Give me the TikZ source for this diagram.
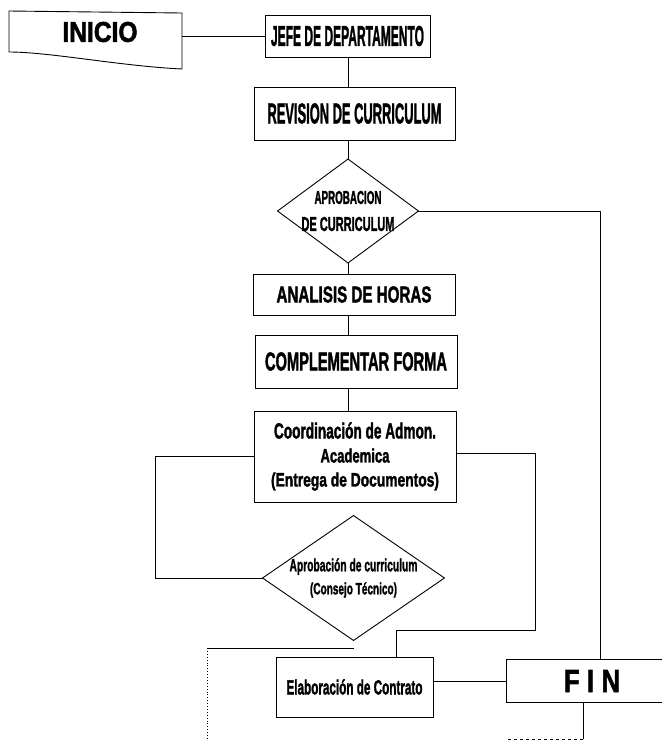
\documentclass[tikz,border=0pt]{standalone}
\usepackage{fontspec}
\setmainfont{Liberation Sans}[BoldFeatures={FakeBold=2}]
\usepackage{graphicx}

% ancho y alto fijos para cada linea de texto (letra condensada)
\newcommand{\ancho}[3]{\resizebox{#1pt}{#2pt}{#3}}

\begin{document}
\begin{tikzpicture}[x=1pt,y=-1pt,line width=0.9pt,
  caja/.style={draw,inner sep=0pt,align=center},
  rombo/.style={inner sep=0pt,align=center}]
\useasboundingbox (0,0) rectangle (662,740);
%inicio
\draw (9,11) -- (182,13) -- (182,69) .. controls (120,66) and (50,52) .. (9,52) -- cycle;
\node[font={\fontsize{29}{30}\selectfont\bfseries}] (inicio) at (100,32) {\ancho{75}{20}{INICIO}};
\coordinate (inicioR) at (182,36);
%cajas y rombos
\node[caja,minimum width=165pt,minimum height=42pt,font={\fontsize{28}{30}\selectfont\bfseries}] (jefe) at (347.5,36) {\ancho{153}{20}{JEFE DE DEPARTAMENTO}};
\node[caja,minimum width=201pt,minimum height=53pt,font={\fontsize{28}{30}\selectfont\bfseries}] (revision) at (354.5,113.5) {\ancho{174}{20}{REVISION DE CURRICULUM}};
\node[rombo,minimum width=140pt,minimum height=103pt,font={\fontsize{19}{27}\selectfont\bfseries}] (a1) at (348,211) {\ancho{67}{13}{APROBACION}\\\ancho{93}{14}{DE CURRICULUM}};
\draw (a1.north) -- (a1.east) -- (a1.south) -- (a1.west) -- cycle;
\node[caja,minimum width=202pt,minimum height=41pt,font={\fontsize{23}{25}\selectfont\bfseries}] (analisis) at (354,294.5) {\ancho{155}{16}{ANALISIS DE HORAS}};
\node[caja,minimum width=202pt,minimum height=53pt,font={\fontsize{25}{27}\selectfont\bfseries}] (complementar) at (356,361.5) {\ancho{182}{18}{COMPLEMENTAR FORMA}};
\node[caja,minimum width=202pt,minimum height=91pt,font={\fontsize{22}{24}\selectfont\bfseries}] (coord) at (355,456.5) {\ancho{162}{16}{Coordinación de Admon.}\\\ancho{69}{14}{Academica}\\\ancho{168}{14}{(Entrega de Documentos)}};
\node[rombo,minimum width=181pt,minimum height=124pt,font={\fontsize{18}{23}\selectfont\bfseries}] (a2) at (353.5,578) {\ancho{128}{13}{Aprobación de curriculum}\\\ancho{87}{12}{(Consejo Técnico)}};
\draw (a2.north) -- (a2.east) -- (a2.south) -- (a2.west) -- cycle;
\node[caja,minimum width=157pt,minimum height=60pt,font={\fontsize{20}{22}\selectfont\bfseries}] (elab) at (354.5,687) {\ancho{136}{15}{Elaboración de Contrato}};
%fin, caja abierta a la derecha
\node[inner sep=0pt,minimum width=156pt,minimum height=42pt,font={\fontsize{30}{32}\selectfont\bfseries}] (fin) at (585,681) {\hspace*{14pt}\ancho{56}{22}{F\hspace{0.3em}I\hspace{0.3em}N}};
\draw ([xshift=2pt]fin.north east) -- (fin.north west) -- (fin.south west) -- ([xshift=2pt]fin.south east);
%lineas
\draw (inicioR) -- (jefe.west);
\foreach \a/\b in {jefe/revision,revision/a1,a1/analisis,analisis/complementar,complementar/coord}
  \draw (a1.center |- \a.south) -- (a1.center |- \b.north);
\draw (a1.east) -| ([xshift=15pt]fin.north);
\draw (coord.west) -- ++(-98,0) |- (a2.west);
\coordinate (lazo) at (535,630);
\draw ([yshift=3pt]coord.east) -| (lazo) -| ([xshift=41.5pt]elab.north);
\coordinate (corte) at (207,648);
\draw (corte) -- (corte -| a2.south);
\draw[dotted] (corte) -- (207,740);
\draw (elab.east |- fin.west) -- (fin.west);
\draw ([xshift=-2pt]fin.south) -- ++(0,37) coordinate (finB);
\draw[dashed] (finB) -- ++(-75,0);
\end{tikzpicture}
\end{document}
